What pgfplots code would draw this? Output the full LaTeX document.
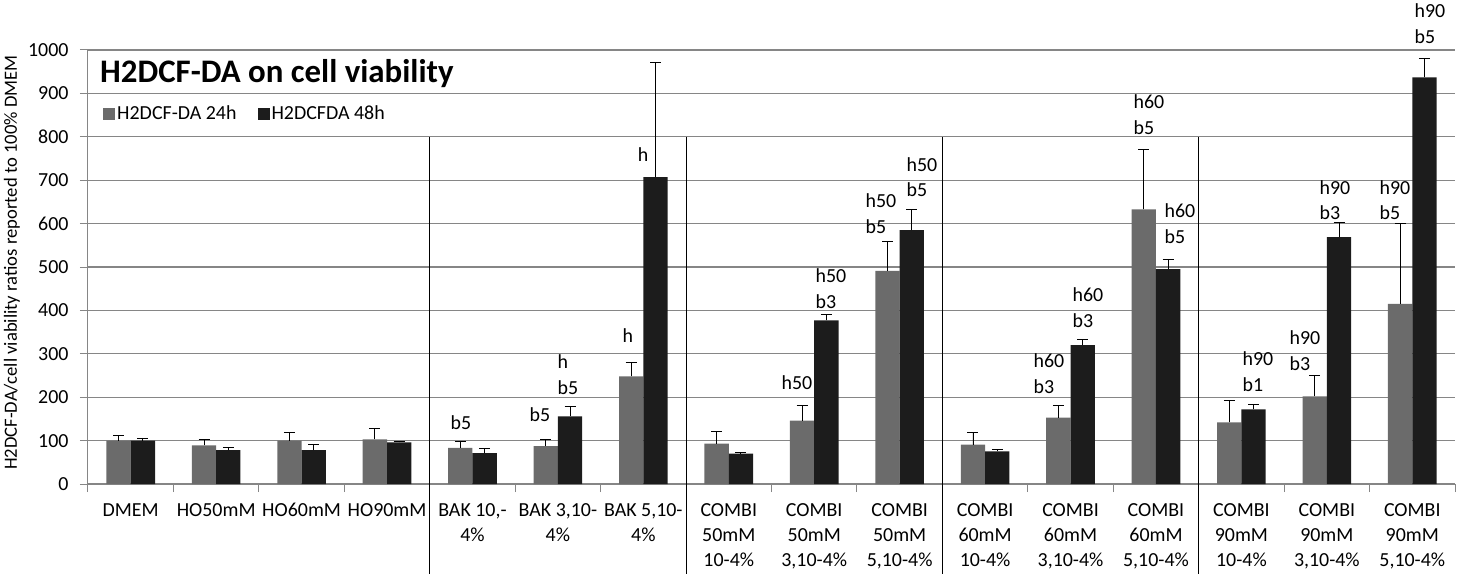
\documentclass[border=0pt]{standalone}
\usepackage{fontspec}
\setmainfont{Carlito}
\usepackage{pgfplots}
\pgfplotsset{compat=1.18}
\usepackage{pgfplotstable}
\definecolor{bargray}{RGB}{107,107,107}
\definecolor{barblack}{RGB}{28,28,28}
\definecolor{gridgray}{RGB}{134,134,134}

\pgfplotstableread{
x y24 e24 y48 e48
0 100 11 100 6
1 89 13 78 6
2 100 18 78 13
3 103 24 96 3
4 83 15 71 11
5 87 15 156 23
6 248 32 707 264
7 93 27 70 2.5
8 146 34 377 13
9 491 68 585 48
10 91 27 75 4
11 153 28 320 13
12 633 137 495 22
13 142 50 172 11
14 202 48 569 33
15 415 186 937 44
}\datatable

\begin{document}
\begin{tikzpicture}
\begin{axis}[
  scale only axis, width=1367bp, height=434bp,
  ymin=0, ymax=1000, xmin=-0.5, xmax=15.5,
  ybar=0pt, bar width=24.3bp,
  axis x line*=bottom, axis y line*=left,
  axis line style={gridgray, line width=1bp},
  ytick={0,100,...,1000},
  ymajorgrids, grid style={gridgray, line width=1.1bp},
  xtick={-0.5,0.5,...,15.5}, xticklabels={},
  extra x ticks={0,...,15},
  extra x tick labels={{DMEM}, {HO50mM}, {HO60mM}, {HO90mM}, {BAK 10,-\\4\%}, {BAK 3,10-\\4\%}, {BAK 5,10-\\4\%},
    {COMBI\\50mM\\10-4\%}, {COMBI\\50mM\\3,10-4\%}, {COMBI\\50mM\\5,10-4\%},
    {COMBI\\60mM\\10-4\%}, {COMBI\\60mM\\3,10-4\%}, {COMBI\\60mM\\5,10-4\%},
    {COMBI\\90mM\\10-4\%}, {COMBI\\90mM\\3,10-4\%}, {COMBI\\90mM\\5,10-4\%}},
  extra x tick style={major tick length=0pt, xticklabel style={align=center, anchor=north, yshift=-16bp}},
  tick align=outside, major tick length=8bp,
  tick style={gridgray, line width=1bp},
  /pgf/number format/assume math mode=true,
  /pgf/number format/1000 sep={},
  ticklabel style={font=\fontsize{20}{25}\selectfont},
  yticklabel style={xshift=-8bp},
  ylabel={H2DCF-DA/cell viability ratios reported to 100\% DMEM},
  ylabel style={font=\fontsize{18.7}{22}\selectfont, at={(axis description cs:-0.0556,0.51)}, anchor=center},
  clip=false,
  legend style={at={(0.011,0.876)}, anchor=north west, draw=none, fill=none,
    font=\fontsize{20}{24}\selectfont, inner sep=0pt},
  legend columns=2,
  /tikz/every even column/.append style={column sep=19bp},
  legend image code/.code={\fill[#1] (0bp,-6bp) rectangle (12bp,6bp);},
  error bars/y dir=plus, error bars/y explicit,
  error bars/error mark options={rotate=90, mark size=5.5bp, line width=0.9bp, black},
  error bars/error bar style={line width=0.9bp, black},
]
\addplot[fill=bargray, draw=none] table[x=x, y=y24, y error=e24] {\datatable};
\addplot[fill=barblack, draw=none] table[x=x, y=y48, y error=e48] {\datatable};
\legend{H2DCF-DA 24h, H2DCFDA 48h}

\draw[black, line width=0.9bp] (axis cs:3.5,800) -- ([yshift=-90bp]axis cs:3.5,0);
\draw[black, line width=0.9bp] (axis cs:6.5,800) -- ([yshift=-90bp]axis cs:6.5,0);
\draw[black, line width=0.9bp] (axis cs:9.5,800) -- ([yshift=-90bp]axis cs:9.5,0);
\draw[black, line width=0.9bp] (axis cs:12.5,800) -- ([yshift=-90bp]axis cs:12.5,0);

\node[anchor=base west, inner sep=0pt, font=\fontsize{33}{38}\bfseries\selectfont] at ([xshift=12bp,yshift=-33bp]rel axis cs:0,1) {H2DCF-DA on cell viability};

\tikzset{lab/.style={font=\fontsize{20}{26}\selectfont, align=left, inner sep=0pt}}
\node[lab] at (axis cs:3.866,142) {b5};
\node[lab] at (axis cs:4.79,160) {b5};
\node[lab] at (axis cs:5.118,253) {h\\b5};
\node[lab] at (axis cs:5.82,343) {h};
\node[lab] at (axis cs:5.996,760) {h};
\node[lab] at (axis cs:7.798,234) {h50};
\node[lab] at (axis cs:8.196,451) {h50\\b3};
\node[lab] at (axis cs:8.781,623) {h50\\b5};
\node[lab] at (axis cs:9.261,707) {h50\\b5};
\node[lab] at (axis cs:10.748,254) {h60\\b3};
\node[lab] at (axis cs:11.204,407) {h60\\b3};
\node[lab] at (axis cs:11.918,851) {h60\\b5};
\node[lab] at (axis cs:12.281,600) {h60\\b5};
\node[lab] at (axis cs:13.194,258) {h90\\b1};
\node[lab] at (axis cs:13.744,308) {h90\\b3};
\node[lab] at (axis cs:14.095,654) {h90\\b3};
\node[lab] at (axis cs:14.797,654) {h90\\b5};
\node[lab] at (axis cs:15.207,1060) {h90\\b5};
\end{axis}
\pgfresetboundingbox
\path ([xshift=-88bp,yshift=-89.5bp]current axis.south west) rectangle ([xshift=3bp,yshift=50bp]current axis.north east);
\end{tikzpicture}
\end{document}
